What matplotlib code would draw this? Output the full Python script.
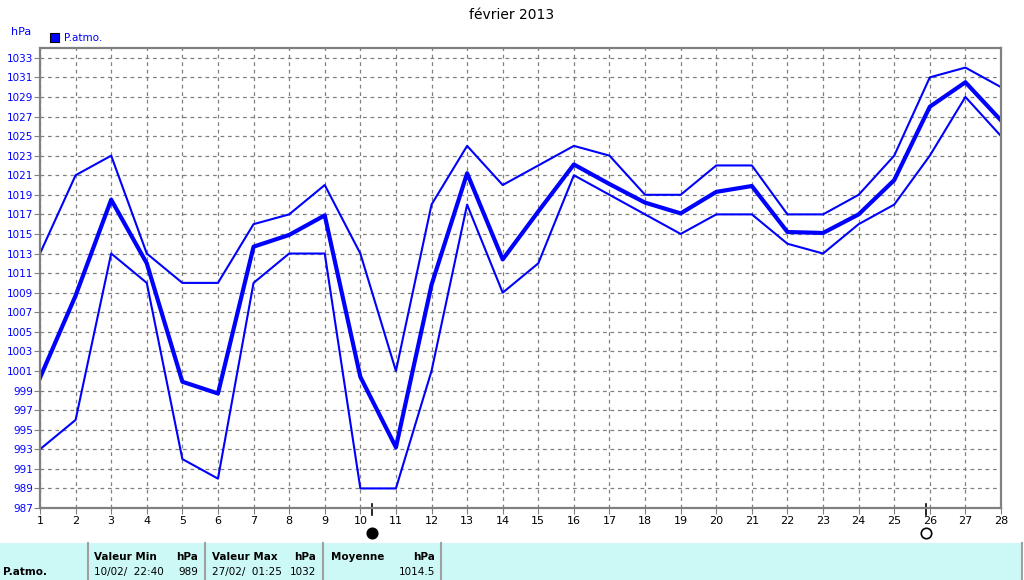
import matplotlib
matplotlib.use('Agg')
import matplotlib.pyplot as plt
from matplotlib.patches import Rectangle
from matplotlib.lines import Line2D
import numpy as np

# daily pressure values (hPa), fevrier 2013
days = list(range(1, 29))
p_max = [1013, 1021, 1023, 1013, 1010, 1010, 1016, 1017, 1020, 1013,
         1001, 1018, 1024, 1020, 1022, 1024, 1023, 1019, 1019, 1022,
         1022, 1017, 1017, 1019, 1023, 1031, 1032, 1030]
p_mean = [1000.3, 1008.7, 1018.5, 1012.0, 999.9, 998.7, 1013.7, 1014.9, 1016.9, 1000.4,
          993.2, 1009.8, 1021.2, 1012.4, 1017.3, 1022.1, 1020.1, 1018.2, 1017.1, 1019.3,
          1019.9, 1015.2, 1015.1, 1017.0, 1020.5, 1028.0, 1030.5, 1026.6]
p_min = [993, 996, 1013, 1010, 992, 990, 1010, 1013, 1013, 989,
         989, 1001, 1018, 1009, 1012, 1021, 1019, 1017, 1015, 1017,
         1017, 1014, 1013, 1016, 1018, 1023, 1029, 1025]

y_ticks = list(range(987, 1034, 2))
new_moon = 10.34
full_moon = 25.89

# summary table
row_label = 'P.atmo.'
headers = [('Valeur Min', 'hPa'), ('Valeur Max', 'hPa'), ('Moyenne', 'hPa')]
dates = ['10/02/  22:40', '27/02/  01:25', '']
values = ['989', '1032', '1014.5']

W, H = 1024, 580
blue = '#0000ff'
grey = '#808080'

fig = plt.figure(figsize=(W / 100, H / 100), dpi=100)
ax = fig.add_axes([40 / W, 1 - 508 / H, 961 / W, 460 / H])

ax.plot(days, p_max, color=blue, lw=1.5)
ax.plot(days, p_min, color=blue, lw=1.5)
ax.plot(days, p_mean, color=blue, lw=3)

ax.set_xlim(1, 28)
ax.set_ylim(987, 1034)
ax.set_xticks(days)
ax.set_yticks(y_ticks)
ax.tick_params(axis='x', labelsize=8, colors=grey, labelcolor='black', length=4, pad=2)
ax.tick_params(axis='y', labelsize=7.5, colors=grey, labelcolor=blue, length=4, pad=1)
ax.grid(True, color=grey, ls=(0, (3, 3)), lw=0.9)
for s in ax.spines.values():
    s.set_color(grey)
    s.set_linewidth(1.6)

# moon phases below the x axis
tr = ax.get_xaxis_transform()
for d, fc in [(new_moon, 'black'), (full_moon, 'white')]:
    ax.plot([d, d], [0.009, -0.015], color='black', lw=1.2, transform=tr, clip_on=False)
    ax.plot([d], [-0.054], marker='o', ms=7.5, mfc=fc, mec='black', mew=1.2,
            transform=tr, clip_on=False)

fig.text(512 / W, 1 - 15 / H, 'février 2013', ha='center', va='center', fontsize=10)
fig.text(11 / W, 1 - 32 / H, 'hPa', color=blue, fontsize=8, va='center')
fig.add_artist(Rectangle((50 / W, 1 - 42 / H), 9 / W, 9 / H, transform=fig.transFigure,
                         facecolor=blue, edgecolor='black', lw=0.8))
fig.text(64 / W, 1 - 38 / H, 'P.atmo.', color=blue, fontsize=7.5, va='center')

# table at the bottom
fig.add_artist(Rectangle((0, 0), 1022 / W, (H - 543) / H, transform=fig.transFigure,
                         facecolor='#ccf8f5', edgecolor='none'))
for xs in [88, 205, 323, 441, 1022]:
    fig.add_artist(Line2D([xs / W, xs / W], [0, (H - 543) / H], transform=fig.transFigure,
                          color='#a0a0a0', lw=1.5))
y1 = 1 - 557 / H
y2 = 1 - 572 / H
fig.text(3 / W, y2, row_label, fontsize=7.5, fontweight='bold', va='center')
lefts = [94, 212, 331]
rights = [198, 316, 435]
for (h, u), dt, v, xl, xr in zip(headers, dates, values, lefts, rights):
    fig.text(xl / W, y1, h, fontsize=7.5, fontweight='bold', va='center')
    fig.text(xr / W, y1, u, fontsize=7.5, fontweight='bold', va='center', ha='right')
    fig.text(xl / W, y2, dt, fontsize=7.5, va='center')
    fig.text(xr / W, y2, v, fontsize=7.5, va='center', ha='right')

fig.savefig('out.png', dpi=100)
